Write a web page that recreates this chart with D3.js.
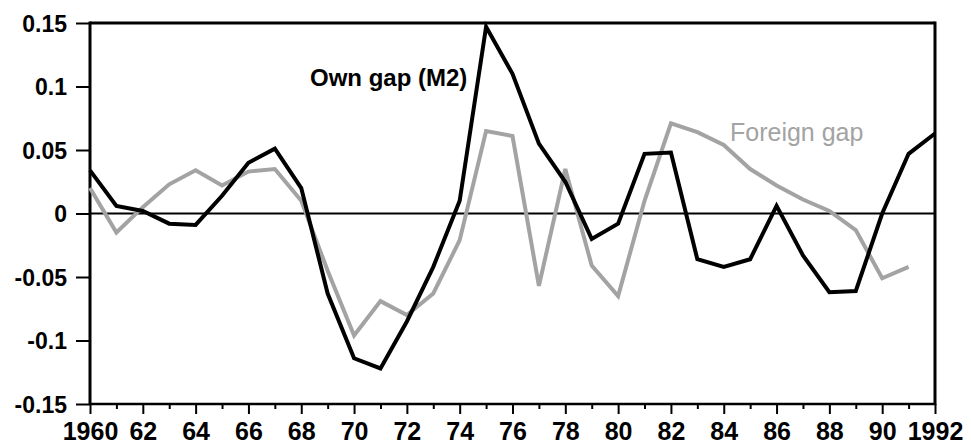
<!DOCTYPE html>
<html><head><meta charset="utf-8">
<script src="https://cdn.jsdelivr.net/npm/d3@7"></script>
<style>
body{margin:0;background:#fff;}
text{font-family:"Liberation Sans",Arial,Helvetica,sans-serif;}
</style></head>
<body><svg id="c" width="971" height="448"></svg>
<script>
const years = d3.range(1960, 1993);
const ownGap = [0.034,0.006,0.002,-0.008,-0.009,0.014,0.040,0.051,0.020,-0.063,-0.114,-0.122,-0.085,-0.042,0.010,0.147,0.110,0.055,0.025,-0.020,-0.008,0.047,0.048,-0.036,-0.042,-0.036,0.006,-0.033,-0.062,-0.061,0.000,0.047,0.063];
const foreignYears = d3.range(1960, 1992);
const foreignGap = [0.020,-0.015,0.005,0.023,0.034,0.022,0.033,0.035,0.010,-0.045,-0.096,-0.069,-0.080,-0.063,-0.021,0.065,0.061,-0.057,0.035,-0.041,-0.065,0.010,0.071,0.064,0.054,0.035,0.022,0.011,0.002,-0.013,-0.051,-0.042];
const yTicks = [0.15,0.1,0.05,0,-0.05,-0.1,-0.15];
const yTickLabels = ["0.15","0.1","0.05","0","-0.05","-0.1","-0.15"];
const xMajor = d3.range(1960, 1993, 2);
const xLabels = ["1960","62","64","66","68","70","72","74","76","78","80","82","84","86","88","90","1992"];

const svg = d3.select("#c");
const L=90, R=935, T=23, B=404;
const x = d3.scaleLinear().domain([1960,1992]).range([L,R]);
const y = d3.scaleLinear().domain([-0.15,0.15]).range([B,T]);

// y axis
const yAxis = d3.axisLeft(y).tickValues(yTicks).tickFormat((d,i)=>yTickLabels[i]).tickSize(14).tickPadding(9);
const gy = svg.append("g").attr("transform",`translate(${L},0)`).call(yAxis);
gy.select(".domain").remove();
gy.selectAll(".tick line").attr("stroke","#000").attr("stroke-width",2);
gy.selectAll(".tick text").attr("font-size",23).attr("font-weight","bold").attr("fill","#000").attr("dy","0.36em");

// x axis major
const xAxis = d3.axisBottom(x).tickValues(xMajor).tickFormat((d,i)=>xLabels[i]).tickSize(10).tickPadding(8);
const gx = svg.append("g").attr("transform",`translate(0,${B})`).call(xAxis);
gx.select(".domain").remove();
gx.selectAll(".tick line").attr("stroke","#000").attr("stroke-width",2);
gx.selectAll(".tick text").attr("font-size",25).attr("font-weight","bold").attr("fill","#000");
// x minor
const gxm = svg.append("g").attr("transform",`translate(0,${B})`).call(d3.axisBottom(x).tickValues(years.filter(d=>d%2===1)).tickSize(5).tickFormat(""));
gxm.select(".domain").remove();
gxm.selectAll(".tick line").attr("stroke","#000").attr("stroke-width",2);

// frame
svg.append("line").attr("x1",L).attr("x2",R).attr("y1",T).attr("y2",T).attr("stroke","#000").attr("stroke-width",3);
svg.append("line").attr("x1",L).attr("x2",R).attr("y1",B).attr("y2",B).attr("stroke","#000").attr("stroke-width",2.5);
svg.append("line").attr("x1",L).attr("x2",L).attr("y1",T-1.5).attr("y2",B+1).attr("stroke","#000").attr("stroke-width",3);
svg.append("line").attr("x1",R).attr("x2",R).attr("y1",T-1.5).attr("y2",B+1).attr("stroke","#000").attr("stroke-width",3);
// zero line
svg.append("line").attr("x1",L).attr("x2",R).attr("y1",y(0)).attr("y2",y(0)).attr("stroke","#000").attr("stroke-width",2);

const line = d3.line().x(d=>x(d[0])).y(d=>y(d[1]));
svg.append("path").datum(foreignYears.map((d,i)=>[d,foreignGap[i]]))
  .attr("d",line).attr("fill","none").attr("stroke","#a3a3a3").attr("stroke-width",4).attr("stroke-linejoin","miter");
svg.append("path").datum(years.map((d,i)=>[d,ownGap[i]]))
  .attr("d",line).attr("fill","none").attr("stroke","#000").attr("stroke-width",4).attr("stroke-linejoin","miter");

svg.append("text").attr("x",310).attr("y",86).attr("font-size",24).attr("font-weight","bold").attr("fill","#000").text("Own gap (M2)");
svg.append("text").attr("x",730).attr("y",141).attr("font-size",25).attr("fill","#a3a3a3").text("Foreign gap");
</script></body></html>
